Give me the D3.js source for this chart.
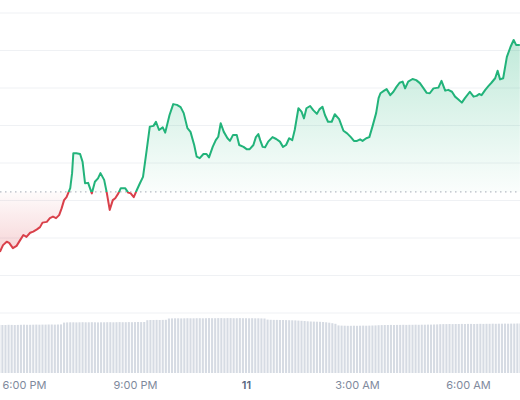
<!DOCTYPE html>
<html>
<head>
  <meta charset="UTF-8">
  <title>Price chart</title>
  <script src="https://cdn.jsdelivr.net/npm/d3@7"></script>
  <style>
    body { margin: 0; background: #fff; }
    svg { display: block; font-family: Inter, "Noto Sans", sans-serif; }
  </style>
</head>
<body>
<svg width="520" height="400"></svg>
<script>
  // price samples: minutes after 10 Jun 18:00, price
  const priceMinutes = [-39, -34, -28, -24, -18, -12, -6, -1, 4, 10, 15, 21, 26, 30, 37, 42, 47, 52, 57, 61,
    65, 69, 75, 78, 80, 85, 91, 95, 99, 104, 110, 115, 120, 124, 130, 134, 139, 144, 148, 153,
    157, 164, 169, 173, 178, 183, 188, 193, 199, 204, 210, 214, 219, 225, 229, 236, 242, 248, 254, 259,
    265, 270, 276, 280, 285, 291, 296, 300, 306, 311, 315, 319, 324, 330, 334, 339, 345, 349, 356, 361,
    366, 372, 376, 380, 383, 387, 391, 396, 403, 409, 415, 420, 425, 430, 435, 439, 445, 450, 454, 458,
    464, 469, 475, 479, 484, 488, 493, 499, 504, 511, 518, 524, 530, 535, 540, 545, 549, 555, 560, 565,
    571, 575, 578, 584, 588, 594, 599, 604, 609, 614, 618, 623, 630, 636, 642, 648, 653, 658, 664, 672,
    677, 683, 688, 694, 699, 704, 710, 715, 723, 729, 734, 738, 742, 748, 753, 758, 764, 768, 772, 777,
    783, 789, 794, 798, 804];
  const prices = [61.63, 61.81, 61.90, 61.87, 61.73, 61.79, 61.95, 62.08, 62.03, 62.14, 62.17, 62.23, 62.29, 62.41, 62.43, 62.53, 62.57, 62.53, 62.61, 62.79,
    63.01, 63.09, 63.33, 63.73, 64.26, 64.26, 64.24, 64.03, 63.46, 63.47, 63.19, 63.50, 63.59, 63.73, 63.55, 63.23, 62.75, 63.01, 63.06, 63.19,
    63.33, 63.33, 63.21, 63.19, 63.09, 63.28, 63.46, 63.63, 64.35, 64.97, 64.99, 65.10, 64.88, 64.95, 64.81, 65.28, 65.57, 65.55, 65.49, 65.33,
    64.93, 64.83, 64.48, 64.17, 64.13, 64.24, 64.24, 64.15, 64.43, 64.61, 64.70, 65.06, 64.83, 64.66, 64.59, 64.75, 64.75, 64.48, 64.43, 64.37,
    64.37, 64.48, 64.69, 64.77, 64.61, 64.43, 64.42, 64.57, 64.69, 64.64, 64.57, 64.43, 64.48, 64.66, 64.61, 64.88, 65.46, 65.37, 65.19, 65.46,
    65.52, 65.41, 65.31, 65.43, 65.50, 65.28, 65.10, 65.10, 65.30, 65.17, 64.86, 64.79, 64.69, 64.59, 64.59, 64.63, 64.59, 64.66, 64.69, 64.97,
    65.33, 65.73, 65.86, 65.93, 65.97, 65.81, 65.90, 66.03, 66.14, 66.17, 65.99, 66.17, 66.24, 66.21, 66.13, 65.99, 65.87, 65.86, 65.99, 66.01,
    66.19, 65.93, 65.95, 65.90, 65.77, 65.70, 65.61, 65.73, 65.90, 65.77, 65.79, 65.84, 65.81, 65.95, 66.05, 66.14, 66.26, 66.46, 66.23, 66.26,
    66.83, 67.10, 67.28, 67.15, 67.15];

  // reference price (dotted line)
  const basePrice = 63.23;

  // volume bars, one every 5 minutes starting 17:20
  const volumeStart = -40;
  const volumes = [48.1, 48.0, 48.0, 48.2, 48.1, 48.0, 48.1, 48.2, 48.3, 48.2, 48.2, 48.3, 48.4, 48.3, 48.4, 48.4, 48.5, 48.5, 48.4, 48.5, 48.6,
    50.4, 50.6, 50.7, 50.7, 50.6, 50.7, 50.8, 50.7, 50.7, 50.8, 50.7, 50.6, 50.7, 50.7, 50.8, 50.8, 50.7, 50.8, 50.9, 50.8, 50.8, 50.9, 50.8, 50.9, 51.0, 50.9, 51.0,
    52.8, 53.0, 53.0, 53.1, 53.0, 53.1, 53.2,
    54.5, 54.6, 54.7, 54.7, 54.6, 54.7, 54.8, 54.7, 54.7, 54.8, 54.8, 54.7, 54.8, 54.9, 54.8, 54.8, 54.9, 54.9, 54.8, 54.9, 54.9, 54.8, 54.8, 54.9, 54.8, 54.8, 54.7, 54.8, 54.7, 54.7, 54.6, 54.5,
    53.4, 53.2, 53.1, 53.1, 53.0, 53.0, 52.9, 52.8, 52.7, 52.6, 52.4, 52.2, 52.0,
    51.7, 51.5, 51.4, 51.3, 51.2, 51.0, 50.7, 50.3, 49.8, 49.2,
    47.6, 47.4, 47.3, 47.2, 47.2, 47.3, 47.2, 47.3, 47.4, 47.3, 47.4, 47.5, 47.6,
    47.8, 47.9, 48.0, 48.0, 48.1, 48.0, 48.1, 48.1, 48.2, 48.1, 48.2, 48.2, 48.3, 48.2, 48.3, 48.3, 48.4, 48.4, 48.5, 48.6,
    48.8, 48.9, 48.9, 49.0, 48.9, 49.0, 49.0, 49.1, 49.0, 49.1, 49.1, 49.0, 49.1, 49.2, 49.1, 49.2, 49.2, 49.3, 49.2, 49.3, 49.3, 49.4, 49.3, 49.4, 49.4, 49.5, 49.5];

  const gridPrices = [60, 61, 62, 63, 64, 65, 66, 67, 68];

  const green = '#22b37a';
  const red = '#d9404a';

  const t0 = new Date(2024, 5, 10, 18, 0);
  const toDate = m => new Date(t0.getTime() + m * 60000);

  const data = priceMinutes.map((m, i) => ({ date: toDate(m), price: prices[i] }));
  const bars = volumes.map((v, i) => ({ date: toDate(volumeStart + i * 5), volume: v }));

  const width = 520;
  const svg = d3.select('svg');

  const xScale = d3.scaleTime()
    .domain([toDate(-38.9), toDate(804.3)])
    .range([0, width]);
  const yScale = d3.scaleLinear().domain([60, 68]).range([313, 13]);
  const vScale = d3.scaleLinear().domain([0, 60]).range([373, 313]);

  const baseY = yScale(basePrice);

  // gradients and clips
  const defs = svg.append('defs');
  const gUp = defs.append('linearGradient')
    .attr('id', 'fillUp').attr('gradientUnits', 'userSpaceOnUse')
    .attr('x1', 0).attr('x2', 0)
    .attr('y1', yScale(d3.max(prices))).attr('y2', baseY);
  gUp.append('stop').attr('offset', 0).attr('stop-color', green).attr('stop-opacity', 0.28);
  gUp.append('stop').attr('offset', 1).attr('stop-color', green).attr('stop-opacity', 0.02);

  const gDown = defs.append('linearGradient')
    .attr('id', 'fillDown').attr('gradientUnits', 'userSpaceOnUse')
    .attr('x1', 0).attr('x2', 0)
    .attr('y1', baseY).attr('y2', yScale(d3.min(prices)));
  gDown.append('stop').attr('offset', 0).attr('stop-color', red).attr('stop-opacity', 0.02);
  gDown.append('stop').attr('offset', 1).attr('stop-color', red).attr('stop-opacity', 0.22);

  defs.append('clipPath').attr('id', 'clipUp')
    .append('rect').attr('x', 0).attr('y', 0).attr('width', width).attr('height', baseY);
  defs.append('clipPath').attr('id', 'clipDown')
    .append('rect').attr('x', 0).attr('y', baseY).attr('width', width).attr('height', 400 - baseY);

  // grid lines
  svg.append('g')
    .selectAll('line')
    .data(gridPrices)
    .enter()
    .append('line')
      .attr('x1', 0).attr('x2', width)
      .attr('y1', d => yScale(d)).attr('y2', d => yScale(d))
      .attr('stroke', '#eff1f4')
      .attr('stroke-width', 1);

  // volume bars
  const step = xScale(toDate(5)) - xScale(toDate(0));
  svg.append('g')
    .selectAll('rect')
    .data(bars)
    .enter()
    .append('rect')
      .attr('x', d => xScale(d.date) - (step - 1) / 2)
      .attr('width', step - 1)
      .attr('y', d => vScale(d.volume))
      .attr('height', d => vScale(0) - vScale(d.volume))
      .attr('fill', '#d6dbe3');

  // areas
  const area = d3.area()
    .x(d => xScale(d.date))
    .y0(baseY)
    .y1(d => yScale(d.price));

  svg.append('path').datum(data)
    .attr('d', area).attr('fill', 'url(#fillUp)').attr('clip-path', 'url(#clipUp)');
  svg.append('path').datum(data)
    .attr('d', area).attr('fill', 'url(#fillDown)').attr('clip-path', 'url(#clipDown)');

  // baseline
  svg.append('line')
    .attr('x1', 0).attr('x2', width)
    .attr('y1', baseY).attr('y2', baseY)
    .attr('stroke', '#b5bac3')
    .attr('stroke-width', 1.2)
    .attr('stroke-dasharray', '1.5,3.5');

  // price line
  const line = d3.line()
    .x(d => xScale(d.date))
    .y(d => yScale(d.price));

  svg.append('path').datum(data)
    .attr('d', line).attr('fill', 'none')
    .attr('stroke', green).attr('stroke-width', 2)
    .attr('stroke-linejoin', 'round')
    .attr('clip-path', 'url(#clipUp)');
  svg.append('path').datum(data)
    .attr('d', line).attr('fill', 'none')
    .attr('stroke', red).attr('stroke-width', 2)
    .attr('stroke-linejoin', 'round')
    .attr('clip-path', 'url(#clipDown)');

  // x axis
  const fmt = d3.timeFormat('%-I:%M %p');
  const xAxis = svg.append('g')
    .attr('transform', 'translate(0, 379)')
    .call(d3.axisBottom(xScale)
      .ticks(d3.timeHour.every(3))
      .tickSize(0)
      .tickPadding(2)
      .tickFormat(d => d.getHours() === 0 ? d3.timeFormat('%-d')(d) : fmt(d)));

  xAxis.select('.domain').remove();
  xAxis.selectAll('text')
    .attr('font-family', 'Inter, "Noto Sans", sans-serif')
    .attr('font-size', 11)
    .attr('fill', d => d.getHours() === 0 ? '#58667e' : '#808a9d')
    .attr('font-weight', d => d.getHours() === 0 ? 600 : 400);
</script>
</body>
</html>
